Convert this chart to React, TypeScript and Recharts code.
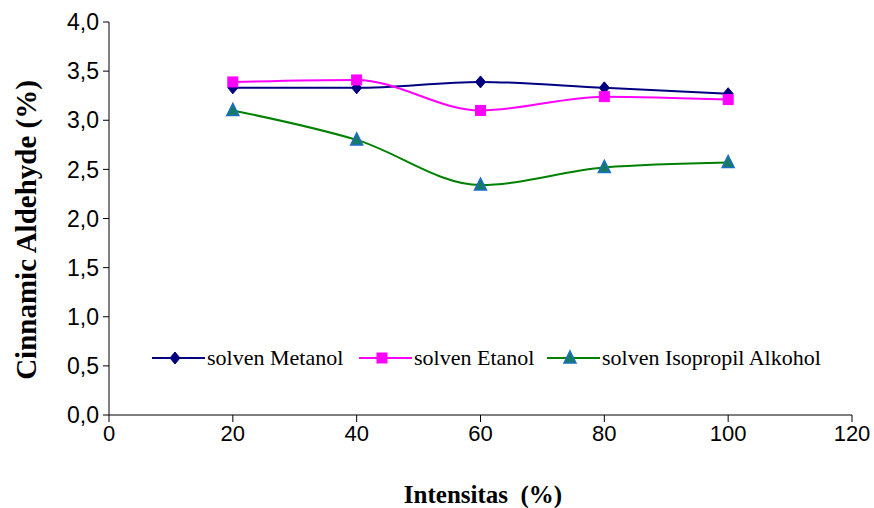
import { LineChart, Line, XAxis, YAxis } from "recharts";

const intensitas = [20, 40, 60, 80, 100];
const metanol = [3.33, 3.33, 3.39, 3.33, 3.27];
const etanol = [3.39, 3.41, 3.1, 3.24, 3.21];
const isopropil = [3.1, 2.8, 2.34, 2.52, 2.57];
const xTicks = [0, 20, 40, 60, 80, 100, 120];
const yTicks = [0, 0.5, 1, 1.5, 2, 2.5, 3, 3.5, 4];

const data = intensitas.map((x, i) => ({
  x,
  metanol: metanol[i],
  etanol: etanol[i],
  isopropil: isopropil[i],
}));

const seriesInfo = [
  { key: "metanol", name: "solven Metanol", color: "#000080", shape: "diamond" },
  { key: "etanol", name: "solven Etanol", color: "#FF00FF", shape: "square" },
  { key: "isopropil", name: "solven Isopropil Alkohol", color: "#008000", shape: "triangle" },
];

const serif = "'Liberation Serif', 'Times New Roman', serif";
const sans = "'Liberation Sans', Arial, sans-serif";

function Marker({ cx, cy, shape }: { cx: number; cy: number; shape: string }) {
  if (shape === "diamond") {
    return <polygon points={`${cx},${cy - 6} ${cx + 5},${cy} ${cx},${cy + 6} ${cx - 5},${cy}`} fill="#000080" stroke="#000080" />;
  }
  if (shape === "square") {
    return <rect x={cx - 5} y={cy - 5} width={10} height={10} fill="#FF00FF" stroke="#FF00FF" />;
  }
  return <polygon points={`${cx},${cy - 7} ${cx + 6},${cy + 5} ${cx - 6},${cy + 5}`} fill="#177a66" stroke="#1a6fc4" strokeWidth={1.5} />;
}

const makeDot = (shape: string) => (props: any) => {
  const { cx, cy, index } = props;
  if (cx == null || cy == null) return <g key={index} />;
  return <Marker key={index} cx={cx} cy={cy} shape={shape} />;
};

// legend entries sit inside the plot, just above the 0,5 gridline
const legendX = [0, 207, 395];

function LegendBox() {
  return (
    <svg width={720} height={30} style={{ position: "absolute", left: 152, top: 344, overflow: "visible" }}>
      {seriesInfo.map((s, i) => {
        const x0 = legendX[i];
        return (
          <g key={s.key}>
            <line x1={x0} x2={x0 + 53} y1={14} y2={14} stroke={s.color} strokeWidth={2} />
            <Marker cx={x0 + 23} cy={14} shape={s.shape} />
            <text x={x0 + 55} y={21} fontFamily={serif} fontSize={22} fill="#000">
              {s.name}
            </text>
          </g>
        );
      })}
    </svg>
  );
}

const xTickStyle = { fontFamily: sans, fontSize: 22, fill: "#000" };
const yTickStyle = { fontFamily: sans, fontSize: 23, fill: "#000" };

export default function App() {
  return (
    <div style={{ position: "fixed", left: 0, top: 0, width: 874, height: 508, background: "#fff" }}>
      <LineChart
        width={874}
        height={508}
        data={data}
        margin={{ top: 22, right: 22, left: 49, bottom: 63 }}
      >
        <XAxis
          dataKey="x"
          type="number"
          domain={[0, 120]}
          ticks={xTicks}
          tick={xTickStyle}
          tickLine={{ stroke: "#000" }}
          tickSize={7}
          tickMargin={3}
          axisLine={{ stroke: "#000" }}
          height={30}
          label={{
            content: () => (
              <text x={483} y={503} textAnchor="middle" fontFamily={serif} fontWeight="bold" fontSize={25} fill="#000" style={{ whiteSpace: "pre" }}>
                {"Intensitas  (%)"}
              </text>
            ),
          }}
        />
        <YAxis
          type="number"
          domain={[0, 4]}
          ticks={yTicks}
          tickFormatter={(v: number) => v.toFixed(1).replace(".", ",")}
          tick={yTickStyle}
          tickLine={{ stroke: "#000" }}
          tickSize={6}
          tickMargin={4}
          axisLine={{ stroke: "#000" }}
          width={60}
          label={{
            content: () => (
              <text
                x={0}
                y={0}
                transform="translate(36 230) rotate(-90)"
                textAnchor="middle"
                fontFamily={serif}
                fontWeight="bold"
                fontSize={29}
                fill="#000"
              >
                Cinnamic Aldehyde (%)
              </text>
            ),
          }}
        />
        {seriesInfo.map((s) => (
          <Line
            key={s.key}
            dataKey={s.key}
            name={s.name}
            type="monotone"
            stroke={s.color}
            strokeWidth={2}
            dot={makeDot(s.shape)}
            activeDot={false}
            isAnimationActive={false}
          />
        ))}
      </LineChart>
      <LegendBox />
    </div>
  );
}
